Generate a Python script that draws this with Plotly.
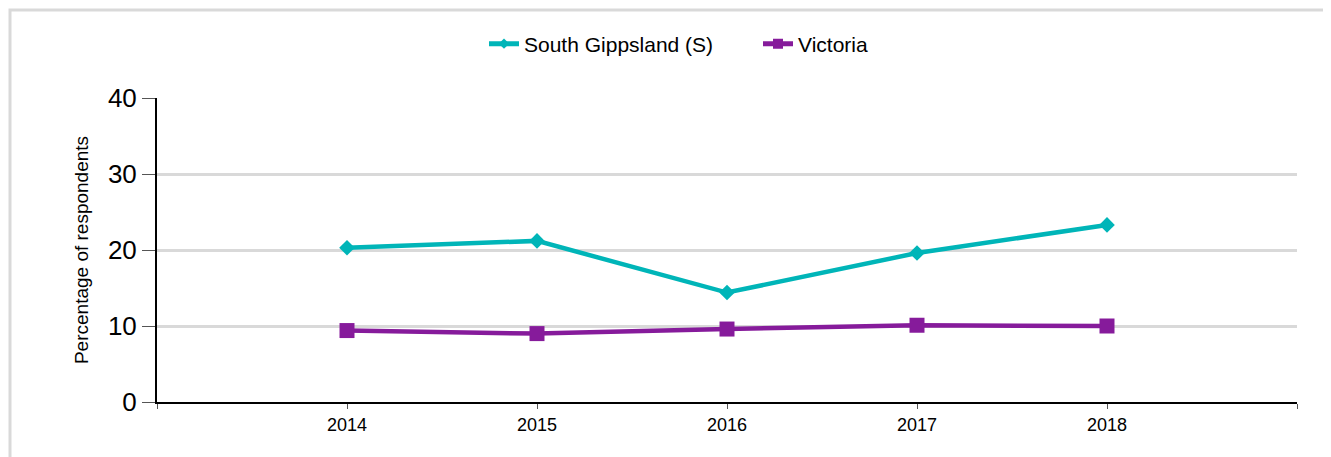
import plotly.graph_objects as go

years = [2014, 2015, 2016, 2017, 2018]
south_gippsland = [20.3, 21.2, 14.4, 19.6, 23.3]
victoria = [9.4, 9.0, 9.6, 10.1, 10.0]
tick_years = [2013, 2014, 2015, 2016, 2017, 2018, 2019]
tick_labels = ["", "2014", "2015", "2016", "2017", "2018", ""]

TEAL = "#00B5B8"
PURPLE = "#861B9B"

# page is offset by 8px body margin
W, H = 1323, 449
L, R, T, B = 149, 34, 90, 55

fig = go.Figure()
fig.add_trace(go.Scatter(
    x=years, y=south_gippsland, name="South Gippsland (S)", mode="lines+markers",
    line=dict(color=TEAL, width=4.5),
    marker=dict(symbol="diamond", size=12, color=TEAL),
    showlegend=False,
))
fig.add_trace(go.Scatter(
    x=years, y=victoria, name="Victoria", mode="lines+markers",
    line=dict(color=PURPLE, width=4.5),
    marker=dict(symbol="square", size=15, color=PURPLE),
    showlegend=False,
))
# legend entries (smaller markers, as in the reference legend)
fig.add_trace(go.Scatter(
    x=[None], y=[None], name="South Gippsland (S)", mode="lines+markers",
    line=dict(color=TEAL, width=5),
    marker=dict(symbol="diamond", size=8, color=TEAL),
))
fig.add_trace(go.Scatter(
    x=[None], y=[None], name="Victoria", mode="lines+markers",
    line=dict(color=PURPLE, width=5),
    marker=dict(symbol="square", size=10, color=PURPLE),
))

pw, ph = W - L - R, H - T - B
fig.add_shape(type="rect", xref="paper", yref="paper",
              x0=(2 - L) / pw, x1=(1345 - L) / pw,
              y0=(H - B - 470) / ph, y1=(H - B - 2) / ph,
              line=dict(color="#d9d9d9", width=3), layer="below")

fig.update_layout(
    width=W, height=H,
    margin=dict(l=L, r=R, t=T, b=B),
    paper_bgcolor="white", plot_bgcolor="white",
    font=dict(family="Arial, Liberation Sans, sans-serif", color="black"),
    showlegend=True,
    legend=dict(orientation="h", x=476 / W, xanchor="left", xref="container",
                y=1 - 36 / H, yanchor="middle", yref="container",
                font=dict(size=21), traceorder="normal", entrywidth=229),
    xaxis=dict(range=[2013, 2019], tickvals=tick_years, ticktext=tick_labels,
               showgrid=False, zeroline=False, showline=True, linecolor="black",
               linewidth=2, ticks="outside", tickcolor="#555", ticklen=5,
               tickfont=dict(size=18)),
    yaxis=dict(range=[0, 40], tickvals=[0, 10, 20, 30, 40], showgrid=True,
               gridcolor="#d9d9d9", gridwidth=2.5, zeroline=False, showline=True,
               linecolor="black", linewidth=2, ticks="outside", tickcolor="#555",
               ticklen=13, tickfont=dict(size=26),
               title=dict(text="Percentage of respondents", font=dict(size=19),
                          standoff=14)),
)

fig.write_html("out.html")
